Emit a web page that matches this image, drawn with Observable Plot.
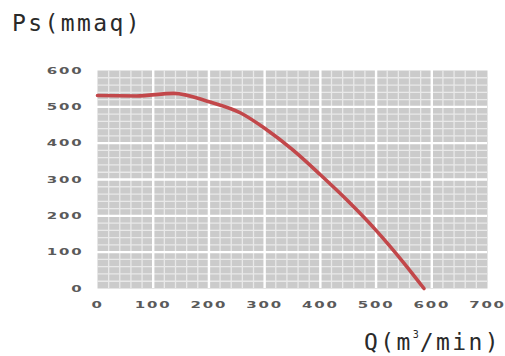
<!DOCTYPE html>
<html>
<head>
<meta charset="utf-8">
<script src="https://cdn.jsdelivr.net/npm/d3@7"></script>
<script src="https://cdn.jsdelivr.net/npm/@observablehq/plot@0.6"></script>
<style>
  html, body { margin: 0; padding: 0; background: #fff; }
  #wrap { position: relative; width: 505px; height: 356px; overflow: hidden; }
  #wrap svg { position: absolute; left: 0; top: 0; }
  .ttl { position: absolute; font-family: "DejaVu Sans Mono", monospace; font-size: 23px; line-height: 1; color: #2a2a2a; letter-spacing: 2.4px; white-space: nowrap; }
  .ttl sup { font-size: 10px; vertical-align: 12px; letter-spacing: 0; margin: 0 1px 0 0; }
</style>
</head>
<body>
<div id="wrap">
  <div class="ttl" id="ytitle" style="left:12px; top:12px;">Ps(mmaq)</div>
  <div class="ttl" id="xtitle" style="left:364px; top:330px;">Q(m<sup>3</sup>/min)</div>
</div>
<script>
// Data
const flowQ = [0, 70, 137, 200, 257, 300, 350, 400, 450, 500, 550, 586];
const pressurePs = [531, 530, 537, 514, 483, 441, 382, 313, 240, 160, 70, 0];

// Axis ticks and grid spacing
const xTicks = [0, 100, 200, 300, 400, 500, 600, 700];
const yTicks = [0, 100, 200, 300, 400, 500, 600];
const xMinor = d3.range(20, 700, 20).filter(v => v % 100 !== 0);
const yMinor = d3.range(20, 600, 20).filter(v => v % 100 !== 0);
const xMajor = [100, 200, 300, 400, 500, 600];
const yMajor = [100, 200, 300, 400, 500];

const curve = flowQ.map((q, i) => ({q, p: pressurePs[i]}));

const chart = Plot.plot({
  width: 505,
  height: 356,
  marginLeft: 97,
  marginRight: 18,
  marginTop: 70,
  marginBottom: 68,
  style: {background: "transparent", fontFamily: "DejaVu Sans", fontSize: "10px"},
  x: {domain: [0, 700], ticks: xTicks},
  y: {domain: [0, 600], ticks: yTicks},
  marks: [
    Plot.frame({fill: "#cbcbcb", stroke: null}),
    Plot.ruleX(xMinor, {stroke: "#e9e9e9", strokeWidth: 1.3}),
    Plot.ruleY(yMinor, {stroke: "#e9e9e9", strokeWidth: 1.3}),
    Plot.ruleX(xMajor, {stroke: "#ffffff", strokeWidth: 2.4}),
    Plot.ruleY(yMajor, {stroke: "#ffffff", strokeWidth: 2.4}),
    Plot.axisX(xTicks, {tickSize: 0, tickPadding: 13, label: null, fill: "#5a5a5a", fontWeight: "bold", tickFormat: d => String(d)}),
    Plot.axisY(yTicks, {tickSize: 0, tickPadding: 14, label: null, fill: "#5a5a5a", fontWeight: "bold", tickFormat: d => String(d)}),
    Plot.line(curve, {x: "q", y: "p", stroke: "#c2474a", strokeWidth: 3.6, curve: "monotone-x", strokeLinecap: "round"})
  ]
});

document.getElementById("wrap").prepend(chart);

// widen the tick-label glyphs to imitate the extended face of the reference
d3.select(chart).selectAll("g[aria-label='x-axis tick label'] text, g[aria-label='y-axis tick label'] text")
  .attr("letter-spacing", "1.2px")
  .attr("transform", function() {
    const t = this.getAttribute("transform") || "";
    return t + " scale(1.5,0.95)";
  });
</script>
</body>
</html>
